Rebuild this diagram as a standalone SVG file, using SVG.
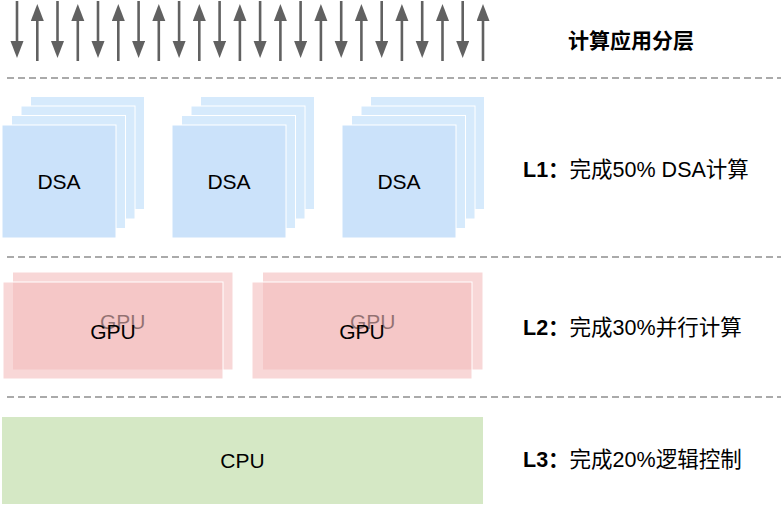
<svg xmlns="http://www.w3.org/2000/svg" width="781" height="506" viewBox="0 0 781 506">
<style>
text{font-family:"Liberation Sans","Noto Sans CJK SC",sans-serif;font-size:21px;fill:#000}
.c{text-anchor:middle}
.b{font-weight:bold}
.lbl{font-size:21.5px}
.sep{stroke:#aaaaaa;stroke-width:2.2;stroke-dasharray:7 4;stroke-linecap:butt;fill:none}
.arr{stroke:#616161;stroke-width:2.6;fill:none;marker-end:url(#ah)}
.dsaB{fill:#d6eafc;stroke:#fff;stroke-width:1}
.dsaF{fill:#cbe2fa;stroke:#fff;stroke-width:1}
.gpu{fill:#f3bcbc;fill-opacity:0.6;stroke:#fff;stroke-width:1}
.cpu{fill:#d5e8c5}
</style>
<defs>
<marker id="ah" markerUnits="userSpaceOnUse" markerWidth="18" markerHeight="14" refX="0" refY="6.5" orient="auto">
<path d="M0,0 L17,6.5 L0,13 z" fill="#616161"/>
</marker>
</defs>
<rect width="781" height="506" fill="#fff"/>
<g id="connectors">
<line class="arr" x1="17" y1="1" x2="17" y2="41"/>
<line class="arr" x1="37.3" y1="61" x2="37.3" y2="21"/>
<line class="arr" x1="57.5" y1="1" x2="57.5" y2="41"/>
<line class="arr" x1="77.8" y1="61" x2="77.8" y2="21"/>
<line class="arr" x1="98" y1="1" x2="98" y2="41"/>
<line class="arr" x1="118.3" y1="61" x2="118.3" y2="21"/>
<line class="arr" x1="138.6" y1="1" x2="138.6" y2="41"/>
<line class="arr" x1="158.8" y1="61" x2="158.8" y2="21"/>
<line class="arr" x1="179.1" y1="1" x2="179.1" y2="41"/>
<line class="arr" x1="199.3" y1="61" x2="199.3" y2="21"/>
<line class="arr" x1="219.6" y1="1" x2="219.6" y2="41"/>
<line class="arr" x1="239.9" y1="61" x2="239.9" y2="21"/>
<line class="arr" x1="260.1" y1="1" x2="260.1" y2="41"/>
<line class="arr" x1="280.4" y1="61" x2="280.4" y2="21"/>
<line class="arr" x1="300.6" y1="1" x2="300.6" y2="41"/>
<line class="arr" x1="320.9" y1="61" x2="320.9" y2="21"/>
<line class="arr" x1="341.2" y1="1" x2="341.2" y2="41"/>
<line class="arr" x1="361.4" y1="61" x2="361.4" y2="21"/>
<line class="arr" x1="381.7" y1="1" x2="381.7" y2="41"/>
<line class="arr" x1="401.9" y1="61" x2="401.9" y2="21"/>
<line class="arr" x1="422.2" y1="1" x2="422.2" y2="41"/>
<line class="arr" x1="442.5" y1="61" x2="442.5" y2="21"/>
<line class="arr" x1="462.7" y1="1" x2="462.7" y2="41"/>
<line class="arr" x1="483" y1="61" x2="483" y2="21"/>
</g>
<g id="separators">
<line class="sep" x1="7" y1="78" x2="781" y2="78"/>
<line class="sep" x1="7" y1="257" x2="781" y2="257"/>
<line class="sep" x1="7" y1="397" x2="781" y2="397"/>
</g>
<g id="title"><text class="b" x="568" y="48">计算应用分层</text></g>
<g id="dsa1">
<rect class="dsaB" x="30.5" y="96.5" width="114" height="113"/>
<rect class="dsaB" x="21" y="106" width="114" height="113"/>
<rect class="dsaB" x="11.5" y="115.5" width="114" height="113"/>
<rect class="dsaF" x="2" y="125" width="114" height="113"/>
<text class="c" x="59" y="189">DSA</text>
</g>
<g id="dsa2">
<rect class="dsaB" x="200.5" y="96.5" width="114" height="113"/>
<rect class="dsaB" x="191" y="106" width="114" height="113"/>
<rect class="dsaB" x="181.5" y="115.5" width="114" height="113"/>
<rect class="dsaF" x="172" y="125" width="114" height="113"/>
<text class="c" x="229" y="189">DSA</text>
</g>
<g id="dsa3">
<rect class="dsaB" x="370.5" y="96.5" width="114" height="113"/>
<rect class="dsaB" x="361" y="106" width="114" height="113"/>
<rect class="dsaB" x="351.5" y="115.5" width="114" height="113"/>
<rect class="dsaF" x="342" y="125" width="114" height="113"/>
<text class="c" x="399" y="189">DSA</text>
</g>
<g id="gpu1">
<rect class="gpu" x="12.5" y="272" width="220.5" height="98"/>
<text class="c" x="122.7" y="328.5">GPU</text>
<rect class="gpu" x="3" y="282" width="220" height="97"/>
<text class="c" x="113" y="338.5">GPU</text>
</g>
<g id="gpu2">
<rect class="gpu" x="262.5" y="272" width="220.5" height="98"/>
<text class="c" x="372.7" y="328.5">GPU</text>
<rect class="gpu" x="252" y="282" width="220" height="97"/>
<text class="c" x="362" y="338.5">GPU</text>
</g>
<g id="cpu">
<rect class="cpu" x="2" y="417" width="481" height="87"/>
<text class="c" x="242.5" y="468">CPU</text>
</g>
<g id="labels">
<text class="lbl" x="523" y="177"><tspan class="b">L1：</tspan>完成50% DSA计算</text>
<text class="lbl" x="523" y="335"><tspan class="b">L2：</tspan>完成30%并行计算</text>
<text class="lbl" x="523" y="467"><tspan class="b">L3：</tspan>完成20%逻辑控制</text>
</g>
</svg>
